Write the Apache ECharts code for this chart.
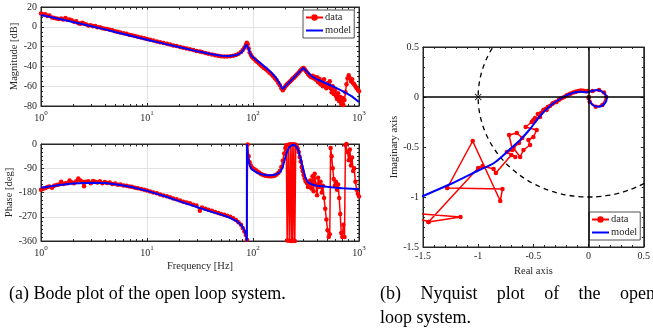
<!DOCTYPE html>
<html>
<head>
<meta charset="utf-8">
<script src="https://cdn.jsdelivr.net/npm/echarts@6.0.0/dist/echarts.min.js"></script>
<style>
  html, body { margin: 0; padding: 0; background: #fff; }
  #chart { width: 653px; height: 328px; }
</style>
</head>
<body>
<div id="chart"></div>
<script>
// measured frequency response (Bode)
const dataFreq = [
  1.00, 1.05, 1.10, 1.15, 1.20, 1.27, 1.33, 1.40, 1.47, 1.55,
  1.62, 1.70, 1.78, 1.86, 1.95, 2.05, 2.15, 2.25, 2.35, 2.45,
  2.55, 2.65, 2.80, 2.95, 3.10, 3.25, 3.40, 3.60, 3.80, 4.00,
  4.20, 4.45, 4.70, 5.00, 5.30, 5.60, 6.00, 6.40, 6.80, 7.20,
  7.70, 8.20, 8.80, 9.40, 10.0, 10.7, 11.5, 12.4, 13.3, 14.3,
  15.4, 16.5, 17.7, 19.0, 20.5, 22.0, 23.6, 25.4, 27.3, 29.3,
  31.5, 33.0, 35.5, 38.0, 41.0, 44.0, 47.0, 50.0, 53.5, 57.0,
  61.0, 65.0, 69.0, 73.0, 77.0, 80.0, 83.0, 85.5, 87.5, 89.0,
  91.0, 93.0, 95.5, 98.0, 101, 104, 107, 110, 114, 118,
  122, 127, 132, 137, 143, 149, 155, 161, 167, 173,
  179, 185, 191, 197, 202, 206, 210, 215, 220, 225,
  230, 234, 238, 243, 248, 253, 258, 264, 270, 276,
  282, 288, 294, 300, 307, 314, 322, 330, 338, 346,
  355, 364, 373, 382, 392, 402, 412, 423, 434, 445,
  456, 468, 480, 492, 505, 518, 530, 540, 552, 565,
  578, 592, 606, 620, 635, 650, 665, 680, 696, 712,
  730, 745, 762, 780, 800, 820, 840, 860, 880, 900,
  925, 950, 975, 1000
];
const dataMag = [
  13.5, 12.5, 12.8, 11.0, 11.5, 9.5, 9.0, 8.5, 8.0, 8.5,
  7.5, 8.8, 7.0, 7.5, 6.5, 5.0, 5.5, 3.5, 3.0, 4.0,
  3.0, 2.5, 1.2, 1.5, 0.5, 0.8, -0.5, -0.5, -1.5, -2.0,
  -2.2, -3.0, -3.6, -4.5, -5.0, -5.8, -6.5, -7.0, -8.0, -8.5,
  -9.2, -10.0, -10.8, -11.5, -12.2, -13.0, -13.8, -14.8, -15.5, -16.3,
  -17.2, -18.0, -18.8, -19.5, -20.3, -21.2, -22.0, -22.8, -23.5, -24.5,
  -25.0, -25.5, -26.5, -27.2, -28.0, -28.7, -29.2, -29.7, -30.0, -30.0,
  -29.8, -29.2, -28.5, -27.2, -25.5, -23.5, -21.0, -18.5, -16.0, -17.5,
  -22.0, -26.0, -28.5, -30.5, -32.0, -33.0, -34.5, -35.5, -37.0, -38.5,
  -40.0, -41.5, -43.0, -44.5, -46.5, -48.0, -50.0, -52.0, -54.0, -56.5,
  -59.0, -62.0, -64.0, -62.0, -60.0, -59.0, -58.0, -57.0, -56.0, -55.0,
  -54.0, -53.0, -52.0, -51.5, -50.5, -49.5, -48.5, -47.5, -46.5, -45.0,
  -44.0, -43.0, -42.0, -41.5, -43.0, -44.5, -46.0, -47.5, -49.0, -50.0,
  -51.0, -49.5, -52.0, -50.5, -53.5, -51.0, -56.0, -52.5, -58.0, -55.0,
  -60.0, -53.0, -58.0, -62.0, -57.0, -60.0, -55.0, -62.0, -66.0, -60.0,
  -68.0, -64.0, -70.0, -73.0, -67.0, -75.0, -71.0, -78.0, -72.0, -79.0,
  -74.0, -66.0, -58.0, -52.0, -49.0, -52.0, -55.0, -53.0, -57.0, -58.0,
  -60.0, -62.0, -63.5, -65.0
];
const dataPhase = [
  -170, -166, -163, -160, -158, -162, -155, -152, -150, -140,
  -148, -146, -146, -135, -142, -146, -138, -128, -135, -140,
  -157, -140, -138, -146, -137, -140, -143, -138, -146, -141,
  -145, -143, -148, -147, -151, -150, -154, -155, -158, -159,
  -162, -164, -167, -170, -173, -176, -180, -183, -187, -191,
  -194, -198, -202, -205, -210, -214, -217, -220, -225, -228,
  -248, -236, -240, -244, -248, -252, -256, -260, -263, -266,
  -270, -276, -282, -290, -300, -312, -325, -338, -355, -2,
  -45, -68, -80, -88, -92, -95, -98, -102, -106, -110,
  -113, -116, -118, -119, -120, -120, -119, -117, -113, -108,
  -100, -85, -62, -35, -15, -5, -358, -3, -359, -1,
  -360, -2, -358, -1, -360, -3, -8, -18, -30, -48,
  -65, -85, -100, -115, -128, -138, -145, -160, -150, -135,
  -165, -120, -175, -110, -150, -190, -125, -160, -140, -180,
  -155, -200, -240, -280, -320, -345, -335, -15, -45, -90,
  -130, -155, -140, -170, -150, -200, -260, -330, -345, -300,
  -345, -5, 0, -30, -60, -20, -80, -50, -100, -90,
  -140, -170, -185, -195
];

// identified model (Bode)
const modelFreq = [
  1, 1.5, 2, 3, 4, 5, 7, 10, 15, 20,
  30, 40, 50, 60, 70, 78, 83, 86, 87.5, 87.6,
  89, 91, 94, 97, 100, 110, 120, 135, 150, 165,
  180, 190, 200, 210, 220, 235, 250, 265, 280, 298,
  310, 330, 360, 400, 500, 600, 700, 850, 1000
];
const modelMag = [
  12, 7.8, 4.8, 0.6, -2.6, -5.2, -9, -13, -17.5, -20.5,
  -24.8, -27.5, -29.2, -29.6, -28.5, -25.8, -21.5, -18, -16, -16,
  -17.5, -22, -27, -29.5, -31, -34.5, -37.5, -42, -46.5, -51.5,
  -58, -63, -60.5, -58.2, -56, -52.9, -49.9, -47.1, -44.5, -41.5,
  -43.5, -46.5, -50, -53, -57.5, -61.5, -65, -70, -76
];
const modelPhase = [
  -162, -152, -147, -144, -145, -149, -159, -174, -195, -212,
  -235, -251, -262, -273, -286, -302, -320, -338, -360, 0,
  -40, -65, -83, -93, -99, -107, -112, -116, -116, -113,
  -104, -88, -55, -28, -12, -3, -5, -18, -50, -95,
  -122, -142, -150, -155, -159, -162, -164, -166, -168
];

// Nyquist: measured points (null splits the trace)
const nyqDataRe = [
  -1.62, -1.16, -1.45, -1.00, -0.96, -0.86, -0.84, -0.70, -0.664, -0.74,
  -0.69, -0.72, -0.65, -0.60, -0.63, -0.68, -0.62, -0.59, -0.53, -0.545,
  -0.50, -0.47, -0.57, -0.515, -0.485, -0.50, -0.44, -0.46, -0.41, -0.43,
  -0.39, -0.37, -0.38, -0.35, -0.33, -0.32, -0.30, -0.29, -0.27, -0.26,
  -0.24, -0.22, -0.20, -0.19, -0.17, -0.16, -0.14, -0.12, -0.11, -0.09,
  -0.07, -0.05, -0.04, -0.02, -0.01, 0.036, 0.095, 0.14, 0.16, 0.125,
  0.065, 0.01, 0.0, 0.003,
  null,
  -1.62, -1.45,
  null,
  -1.28, -1.05, -0.80, -0.78, -1.28
];
const nyqDataIm = [
  -1.16, -1.20, -1.25, -0.71, -0.69, -0.72, -0.76, -0.58, -0.60, -0.55,
  -0.53, -0.38, -0.36, -0.41, -0.46, -0.51, -0.60, -0.53, -0.48, -0.43,
  -0.40, -0.33, -0.30, -0.25, -0.21, -0.23, -0.20, -0.17, -0.13, -0.16,
  -0.12, -0.10, -0.13, -0.09, -0.07, -0.06, -0.05, -0.05, -0.03, -0.02,
  -0.01, 0.00, 0.015, 0.02, 0.03, 0.035, 0.045, 0.05, 0.055, 0.06,
  0.065, 0.062, 0.06, 0.058, 0.06, 0.06, 0.07, 0.045, 0.00, -0.08,
  -0.097, -0.047, -0.01, 0.0,
  null,
  -1.18, -1.25,
  null,
  -0.91, -0.44, -1.04, -0.92, -0.91
];
// Nyquist: model
const nyqModelRe = [
  -1.60, -1.50, -1.25, -0.99, -0.857, -0.72, -0.62, -0.53, -0.44, -0.35,
  -0.26, -0.17, -0.083, -0.01, 0.03, 0.08, 0.14, 0.165, 0.15, 0.095,
  0.036, 0.006, 0.0
];
const nyqModelIm = [
  -1.04, -0.99, -0.87, -0.73, -0.66, -0.53, -0.43, -0.32, -0.19, -0.09,
  -0.02, 0.03, 0.053, 0.047, 0.06, 0.07, 0.04, -0.01, -0.06, -0.097,
  -0.08, -0.03, 0.0
];
const critPoint = [-1, 0];

// tick labels
const freqDecades = [1, 10, 100, 1000];
const magRange = [-80, 20, 20];
const phaseRange = [-360, 0, 90];
const nyqRange = [-1.5, 0.5, 0.5];

const FONT = "'Liberation Serif', 'DejaVu Serif', serif";
const INK = '#262626';
const RED = '#ff0000';
const BLUE = '#0000ff';

// log ticks: minors 2..9 per decade, plus the decades
const minorLogTicks = [];
freqDecades.slice(0, -1).forEach(d => {
  for (let k = 2; k < 10; k++) minorLogTicks.push(k * d);
});
const allLogTicks = minorLogTicks.concat(freqDecades);

const chart = echarts.init(document.getElementById('chart'));

function logXAxes(grid, name) {
  const base = {
    gridIndex: grid, type: 'log', logBase: 10, min: 1, max: 1000,
    axisLine: { show: true, onZero: false, lineStyle: { color: INK, width: 1 } },
    axisTick: { show: true, inside: true, length: 3, lineStyle: { color: INK } },
    axisLabel: { show: false },
    splitLine: { show: false }
  };
  return [
    Object.assign({}, base, {
      position: 'bottom',
      name: name || '', nameLocation: 'middle', nameGap: 20,
      nameTextStyle: { fontFamily: FONT, fontSize: 10.5, color: INK },
      axisLabel: {
        margin: 4,
        formatter: v => '{b|10}{s|' + Math.round(Math.log10(v)) + '}',
        rich: {
          b: { fontFamily: FONT, fontSize: 10, color: INK, verticalAlign: 'bottom', lineHeight: 13 },
          s: { fontFamily: FONT, fontSize: 7, color: INK, verticalAlign: 'top', lineHeight: 13 }
        }
      },
      splitLine: { show: true, lineStyle: { color: '#e2e2e2', width: 1 } }
    }),
    Object.assign({}, base, {
      position: 'bottom',
      axisLine: { show: false, onZero: false },
      axisTick: { show: true, inside: true, length: 2, customValues: minorLogTicks, lineStyle: { color: INK } }
    }),
    Object.assign({}, base, {
      position: 'top',
      axisTick: { show: true, inside: true, length: 2.5, customValues: allLogTicks, lineStyle: { color: INK } }
    })
  ];
}

function valueAxes(grid, range, minorSplit, name, nameGap, dimName, gridLines) {
  const base = {
    gridIndex: grid, type: 'value', min: range[0], max: range[1], interval: range[2],
    axisLine: { show: true, onZero: false, lineStyle: { color: INK, width: 1 } },
    axisTick: { show: true, inside: true, length: 3, lineStyle: { color: INK } },
    minorTick: { show: true, splitNumber: minorSplit, length: 2, lineStyle: { color: INK } }
  };
  const first = dimName === 'x' ? 'bottom' : 'left';
  const second = dimName === 'x' ? 'top' : 'right';
  return [
    Object.assign({}, base, {
      position: first,
      name: name, nameLocation: 'middle', nameGap: nameGap,
      nameTextStyle: { fontFamily: FONT, fontSize: 10.5, color: INK },
      axisLabel: { fontFamily: FONT, fontSize: 10, color: INK, margin: 4 },
      splitLine: { show: gridLines, lineStyle: { color: '#e2e2e2', width: 1 } }
    }),
    Object.assign({}, base, {
      position: second, axisLabel: { show: false }, splitLine: { show: false }
    })
  ];
}

const pairs = (xs, ys) => xs.map((x, i) => [x, ys[i]]);

// split nyquist measured trace at nulls
const nyqSegments = [[]];
nyqDataRe.forEach((re, i) => {
  if (re === null) nyqSegments.push([]);
  else nyqSegments[nyqSegments.length - 1].push([re, nyqDataIm[i]]);
});

// dashed unit circle (reference curve)
const unitCircle = [];
for (let a = 0; a <= 360; a += 5) {
  unitCircle.push([Math.cos(a * Math.PI / 180), Math.sin(a * Math.PI / 180)]);
}

const dataStyle = {
  type: 'line', name: 'data', symbol: 'circle', symbolSize: 4.5,
  lineStyle: { color: RED, width: 1.5 }, itemStyle: { color: RED },
  z: 2, animation: false
};
const modelStyle = {
  type: 'line', name: 'model', symbol: 'none',
  lineStyle: { color: BLUE, width: 2 }, itemStyle: { color: BLUE },
  z: 3, animation: false
};

const legendBase = {
  data: ['data', { name: 'model', icon: 'path://M0,0H17V2H0Z' }],
  orient: 'vertical',
  itemWidth: 17, itemHeight: 8, itemGap: 2,
  padding: [2, 3, 2, 2],
  borderColor: INK, borderWidth: 0.8, backgroundColor: '#fff',
  textStyle: { fontFamily: FONT, fontSize: 10.5, color: INK, padding: [0, 0, 0, -3] },
  selectedMode: false
};

// captions: words laid out with measured widths
const captionFont = '18px ' + FONT;
const measure = document.createElement('canvas').getContext('2d');
measure.font = captionFont;
function placeWords(words, x0, y, gap) {
  let x = x0;
  return words.map(w => {
    const el = { type: 'text', left: x, top: y, style: { text: w, font: captionFont, fill: '#000' } };
    x += measure.measureText(w).width + gap;
    return el;
  });
}
const captionA = ['(a)', 'Bode', 'plot', 'of', 'the', 'open', 'loop', 'system.'];
const captionB1 = ['(b)', 'Nyquist', 'plot', 'of', 'the', 'open'];
const widthB1 = captionB1.reduce((s, w) => s + measure.measureText(w).width, 0);
const gapB1 = (655 - 380 - widthB1) / (captionB1.length - 1);

const option = {
  animation: false,
  backgroundColor: '#fff',
  grid: [
    { left: 41, top: 7, width: 318, height: 99, show: true, borderColor: INK, borderWidth: 1, backgroundColor: '#fff' },
    { left: 41, top: 144, width: 318, height: 97, show: true, borderColor: INK, borderWidth: 1, backgroundColor: '#fff' },
    { left: 423, top: 47, width: 224, height: 200, show: true, borderColor: INK, borderWidth: 1, backgroundColor: '#fff' }
  ],
  xAxis: [].concat(
    logXAxes(0, ''),
    logXAxes(1, 'Frequency [Hz]'),
    valueAxes(2, nyqRange, 5, 'Real axis', 17, 'x', false)
  ),
  yAxis: [].concat(
    valueAxes(0, magRange, 4, 'Magnitude [dB]', 21, 'y', true),
    valueAxes(1, phaseRange, 6, 'Phase [deg]', 26, 'y', true),
    valueAxes(2, nyqRange, 5, 'Imaginary axis', 20, 'y', false)
  ),
  legend: [
    Object.assign({}, legendBase, { left: 303, top: 10 }),
    Object.assign({}, legendBase, { left: 589, top: 212 })
  ],
  series: [
    Object.assign({}, dataStyle, { xAxisIndex: 0, yAxisIndex: 0, data: pairs(dataFreq, dataMag) }),
    Object.assign({}, modelStyle, { xAxisIndex: 0, yAxisIndex: 0, data: pairs(modelFreq, modelMag) }),
    Object.assign({}, dataStyle, { xAxisIndex: 3, yAxisIndex: 2, data: pairs(dataFreq, dataPhase) }),
    Object.assign({}, modelStyle, { xAxisIndex: 3, yAxisIndex: 2, data: pairs(modelFreq, modelPhase) }),
    {
      type: 'line', name: 'circle', xAxisIndex: 6, yAxisIndex: 4, data: unitCircle,
      symbol: 'none', smooth: true, z: 1,
      lineStyle: { color: '#000', width: 1.3, type: [5, 4] },
      markLine: {
        silent: true, symbol: ['none', 'none'], label: { show: false },
        lineStyle: { color: '#000', width: 1.5, type: 'solid' },
        data: [{ xAxis: 0 }, { yAxis: 0 }]
      }
    }
  ].concat(
    nyqSegments.map(seg => Object.assign({}, dataStyle, { xAxisIndex: 6, yAxisIndex: 4, data: seg })),
    [
      Object.assign({}, modelStyle, { xAxisIndex: 6, yAxisIndex: 4, data: pairs(nyqModelRe, nyqModelIm), smooth: 0.3 }),
      {
        type: 'scatter', name: 'critical', xAxisIndex: 6, yAxisIndex: 4, data: [critPoint],
        symbol: 'path://M0,1L1,0L5,4L9,0L10,1L6,5L10,9L9,10L5,6L1,10L0,9L4,5Z',
        symbolSize: 7, itemStyle: { color: '#000' }, z: 5
      }
    ]
  ),
  graphic: [].concat(
    placeWords(captionA, 9, 285, 4.6),
    placeWords(captionB1, 380, 285, gapB1),
    placeWords(['loop', 'system.'], 380, 309, 4.5)
  )
};

chart.setOption(option);
</script>
</body>
</html>
